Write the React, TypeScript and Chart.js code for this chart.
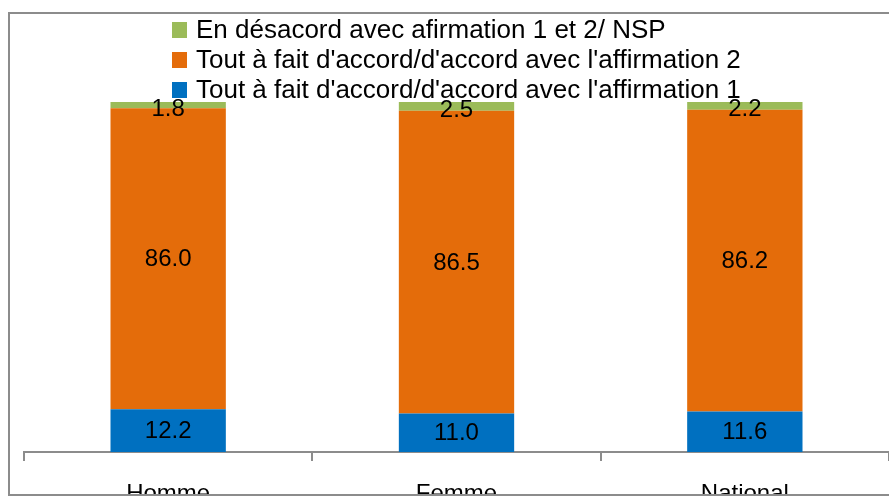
import React, { useEffect, useRef } from "react";
import { Chart, registerables } from "chart.js";

Chart.register(...registerables);

const categories = ["Homme", "Femme", "National"];
const affirmation1 = [12.2, 11.0, 11.6];
const affirmation2 = [86.0, 86.5, 86.2];
const desaccord = [1.8, 2.5, 2.2];
const seriesLabels = [
  "Tout à fait d'accord/d'accord avec l'affirmation 1",
  "Tout à fait d'accord/d'accord avec l'affirmation 2",
  "En désacord avec afirmation 1 et 2/ NSP",
];
const seriesColors = ["#0070C0", "#E46C0A", "#9BBB59"];

const FONT = "'Liberation Sans', Arial, sans-serif";

const decorPlugin = {
  id: "decor",
  beforeDraw(chart: any) {
    const ctx = chart.ctx;
    ctx.save();
    ctx.fillStyle = "#ffffff";
    ctx.fillRect(0, 0, chart.width, chart.height);
    ctx.restore();
  },
  afterDatasetsDraw(chart: any) {
    const ctx = chart.ctx;
    ctx.save();
    ctx.font = `24px ${FONT}`;
    ctx.fillStyle = "#000000";
    ctx.textAlign = "center";
    ctx.textBaseline = "middle";
    chart.data.datasets.forEach((ds: any, di: number) => {
      const meta = chart.getDatasetMeta(di);
      meta.data.forEach((el: any, i: number) => {
        const v = ds.data[i];
        const y = (el.y + el.base) / 2 + (di === 2 ? 4 : 1);
        ctx.fillText(Number(v).toFixed(1), el.x, y);
      });
    });
    ctx.restore();
  },
  afterDraw(chart: any) {
    const ctx = chart.ctx;
    ctx.save();
    // legend (reverse order)
    ctx.font = `26px ${FONT}`;
    ctx.textAlign = "left";
    ctx.textBaseline = "middle";
    const n = chart.data.datasets.length;
    for (let k = 0; k < n; k++) {
      const di = n - 1 - k;
      const ds = chart.data.datasets[di];
      const cy = 30 + k * 30;
      ctx.fillStyle = ds.backgroundColor;
      ctx.fillRect(172, cy - 8, 15, 16);
      ctx.fillStyle = "#000000";
      ctx.fillText(ds.label, 196, cy + 1);
    }
    // clip area below border
    ctx.fillStyle = "#ffffff";
    ctx.fillRect(0, 496, chart.width, chart.height - 496);
    // outer border
    ctx.strokeStyle = "#8C8C8C";
    ctx.lineWidth = 2;
    ctx.strokeRect(9, 13, chart.width + 20, 482);
    ctx.restore();
  },
};

export default function App() {
  const canvasRef = useRef<HTMLCanvasElement | null>(null);

  useEffect(() => {
    if (!canvasRef.current) return;
    const chart = new Chart(canvasRef.current, {
      type: "bar",
      data: {
        labels: categories,
        datasets: [
          { label: seriesLabels[0], data: affirmation1, backgroundColor: seriesColors[0] },
          { label: seriesLabels[1], data: affirmation2, backgroundColor: seriesColors[1] },
          { label: seriesLabels[2], data: desaccord, backgroundColor: seriesColors[2] },
        ],
      },
      options: {
        responsive: false,
        animation: false,
        layout: { padding: { top: 102, left: 24, right: 0, bottom: 0 } },
        datasets: { bar: { barPercentage: 0.4, categoryPercentage: 1.0 } },
        plugins: { legend: { display: false }, tooltip: { enabled: false } },
        scales: {
          x: {
            stacked: true,
            afterFit: (scale: any) => {
              scale.height = 498 - 452;
            },
            grid: {
              display: true,
              drawOnChartArea: false,
              drawTicks: true,
              tickLength: 9,
              color: "#8C8C8C",
              lineWidth: 2,
              offset: true,
            },
            border: { display: true, color: "#8C8C8C", width: 2 },
            ticks: {
              color: "#000000",
              font: { family: FONT, size: 24 },
              padding: 19,
              maxRotation: 0,
            },
          },
          y: {
            stacked: true,
            display: false,
            min: 0,
            max: 100,
          },
        },
      },
      plugins: [decorPlugin],
    });
    return () => chart.destroy();
  }, []);

  return (
    <div style={{ position: "fixed", left: 0, top: 0, width: 889, height: 498, overflow: "hidden", background: "#fff" }}>
      <canvas ref={canvasRef} width={889} height={498} style={{ display: "block" }} />
    </div>
  );
}
